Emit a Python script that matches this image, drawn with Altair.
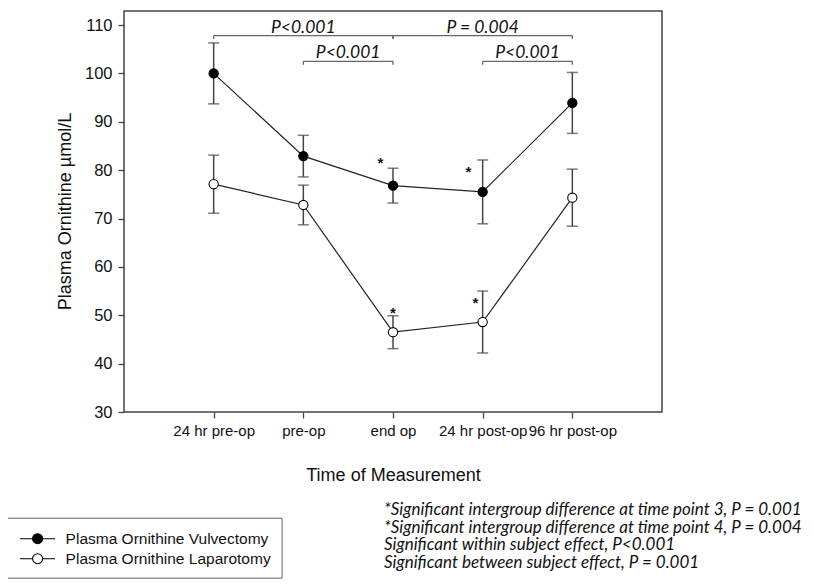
import json
import altair as alt
import pandas as pd

# ---------------- data ----------------
timepoints = ["24 hr pre-op", "pre-op", "end op", "24 hr post-op", "96 hr post-op"]
series_names = ["Plasma Ornithine Vulvectomy", "Plasma Ornithine Laparotomy"]
vulv_mean = [100.0, 82.9, 76.8, 75.5, 93.9]
vulv_err = [6.3, 4.3, 3.6, 6.6, 6.3]
lap_mean = [77.1, 72.8, 46.5, 48.6, 74.3]
lap_err = [6.0, 4.1, 3.4, 6.4, 5.9]

# significance brackets (between time points)
bracket_from = [1, 2, 3, 4]
bracket_to = [3, 3, 5, 5]
bracket_level = [107.8, 102.5, 107.8, 102.5]
bracket_text = ["P<0.001", "P<0.001", "P = 0.004", "P<0.001"]
bracket_drop = 0.7

# asterisks marking intergroup differences
star_x = [2.86, 3.84, 3.0, 3.92]
star_y = [82.2, 80.2, 51.0, 53.2]

footnotes = [
    "*Significant intergroup difference at time point 3, P = 0.001",
    "*Significant intergroup difference at time point 4, P = 0.004",
    "Significant within subject effect, P<0.001",
    "Significant between subject effect, P = 0.001",
]

# ---------------- tables ----------------
rows = []
for name, means, errs in [(series_names[0], vulv_mean, vulv_err),
                          (series_names[1], lap_mean, lap_err)]:
    for i, (m, e) in enumerate(zip(means, errs)):
        rows.append({"t": i + 1, "series": name, "mean": m,
                     "lo": round(m - e, 2), "hi": round(m + e, 2)})
df = pd.DataFrame(rows)

br = pd.DataFrame({"x1": bracket_from, "x2": bracket_to, "y": bracket_level,
                   "label": bracket_text})
br["xm"] = (br["x1"] + br["x2"]) / 2
br["ylow"] = br["y"] - bracket_drop
drops = pd.concat([
    pd.DataFrame({"x": br["x1"], "y": br["y"], "ylow": br["ylow"]}),
    pd.DataFrame({"x": br["x2"], "y": br["y"], "ylow": br["ylow"]}),
])
stars = pd.DataFrame({"x": star_x, "y": star_y, "s": ["*"] * len(star_x)})

# ---------------- scales / axes ----------------
AX_FONT = "Liberation Sans, Arial, sans-serif"
NOTE_FONT = "Lato, Open Sans, sans-serif"
label_expr = json.dumps([""] + timepoints + [""]) + "[datum.value]"

x_scale = alt.Scale(domain=[0, 6], nice=False, zero=False)
y_scale = alt.Scale(domain=[30, 112.9], nice=False, zero=False)

x_axis = alt.Axis(values=[1, 2, 3, 4, 5], labelExpr=label_expr,
                  title="Time of Measurement", labelOverlap=False,
                  labelFlush=False, domain=False, grid=False,
                  tickSize=6, tickColor="#444", tickWidth=1.3,
                  labelPadding=5, labelFont=AX_FONT, labelFontSize=15,
                  labelColor="#111", titleFont=AX_FONT, titleFontSize=18,
                  titleFontWeight="normal", titleColor="#111",
                  titleY=63, titleBaseline="middle")
y_axis = alt.Axis(values=list(range(30, 111, 10)), title="Plasma Ornithine µmol/L",
                  domain=False, grid=False, tickSize=6, tickColor="#444",
                  tickWidth=1.3, labelPadding=6, labelFont=AX_FONT,
                  labelFontSize=16.5, labelColor="#111", titleFont=AX_FONT,
                  titleFontSize=18, titleFontWeight="normal", titleColor="#111",
                  titleX=-59, titleY=200, titleAngle=270,
                  titleBaseline="middle", titleAlign="center")

X = alt.X("t:Q", scale=x_scale, axis=x_axis)
Y = alt.Y("mean:Q", scale=y_scale, axis=y_axis)

legend_symbol = ("M-1.75,0L-0.5,0M0.5,0L1.75,0"
                 "M0.5,0A0.5,0.5,0,1,1,-0.5,0A0.5,0.5,0,1,1,0.5,0Z")

base = alt.Chart(df)

lines = base.mark_line(color="#222", strokeWidth=1.2).encode(
    x=X, y=Y, detail="series:N")

err_rules = base.mark_rule(color="#444", strokeWidth=1.5).encode(
    x="t:Q", y="lo:Q", y2="hi:Q")
cap_hi = base.mark_tick(color="#444", thickness=1.5, size=11,
                        orient="horizontal").encode(x="t:Q", y="hi:Q")
cap_lo = base.mark_tick(color="#444", thickness=1.5, size=11,
                        orient="horizontal").encode(x="t:Q", y="lo:Q")

points = base.mark_point(shape="circle", size=85, strokeWidth=1.1,
                         opacity=1).encode(
    x="t:Q", y="mean:Q",
    fill=alt.Fill("series:N",
                  scale=alt.Scale(domain=series_names, range=["black", "white"]),
                  legend=alt.Legend(orient="none", legendX=-117.4, legendY=506.7,
                                    title=None, strokeColor="#666",
                                    padding=10, symbolType=legend_symbol,
                                    symbolSize=400, symbolStrokeColor="black",
                                    symbolStrokeWidth=1.1, symbolOffset=10,
                                    labelOffset=17, labelFont=AX_FONT,
                                    labelFontSize=15.5, labelColor="#111",
                                    labelLimit=400,
                                    rowPadding=0, fillColor="white")),
    stroke=alt.value("black"))

star_text = alt.Chart(stars).mark_text(text="*", font=AX_FONT, fontSize=15,
                                       fontWeight="bold",
                                       baseline="alphabetic", dy=8,
                                       color="#111").encode(
    x="x:Q", y="y:Q")

br_h = alt.Chart(br).mark_rule(color="#666", strokeWidth=1.3).encode(
    x="x1:Q", x2="x2:Q", y="y:Q")
br_v = alt.Chart(drops).mark_rule(color="#666", strokeWidth=1.3).encode(
    x="x:Q", y="y:Q", y2="ylow:Q")
br_lab = alt.Chart(br).mark_text(font=NOTE_FONT, fontSize=17.5,
                                 fontStyle="italic", baseline="alphabetic",
                                 dy=-3, color="#111").encode(
    x="xm:Q", y="y:Q", text="label:N")

chart = alt.layer(br_h, br_v, br_lab, err_rules, cap_hi, cap_lo, lines, points,
                  star_text).properties(
    width=538, height=401,
    autosize=alt.AutoSizeParams(type="none"),
    padding={"left": 116, "top": 3, "right": 144, "bottom": 167},
    title=alt.TitleParams(text=footnotes, orient="bottom", anchor="start",
                          frame="group", align="left", dx=260, offset=-76,
                          font=NOTE_FONT, fontSize=17, fontStyle="italic",
                          fontWeight="normal", color="#111", lineHeight=17.6),
).configure_view(stroke="#444", strokeWidth=1.5)

chart.save("out.html", embed_options={"renderer": "svg", "actions": False})
